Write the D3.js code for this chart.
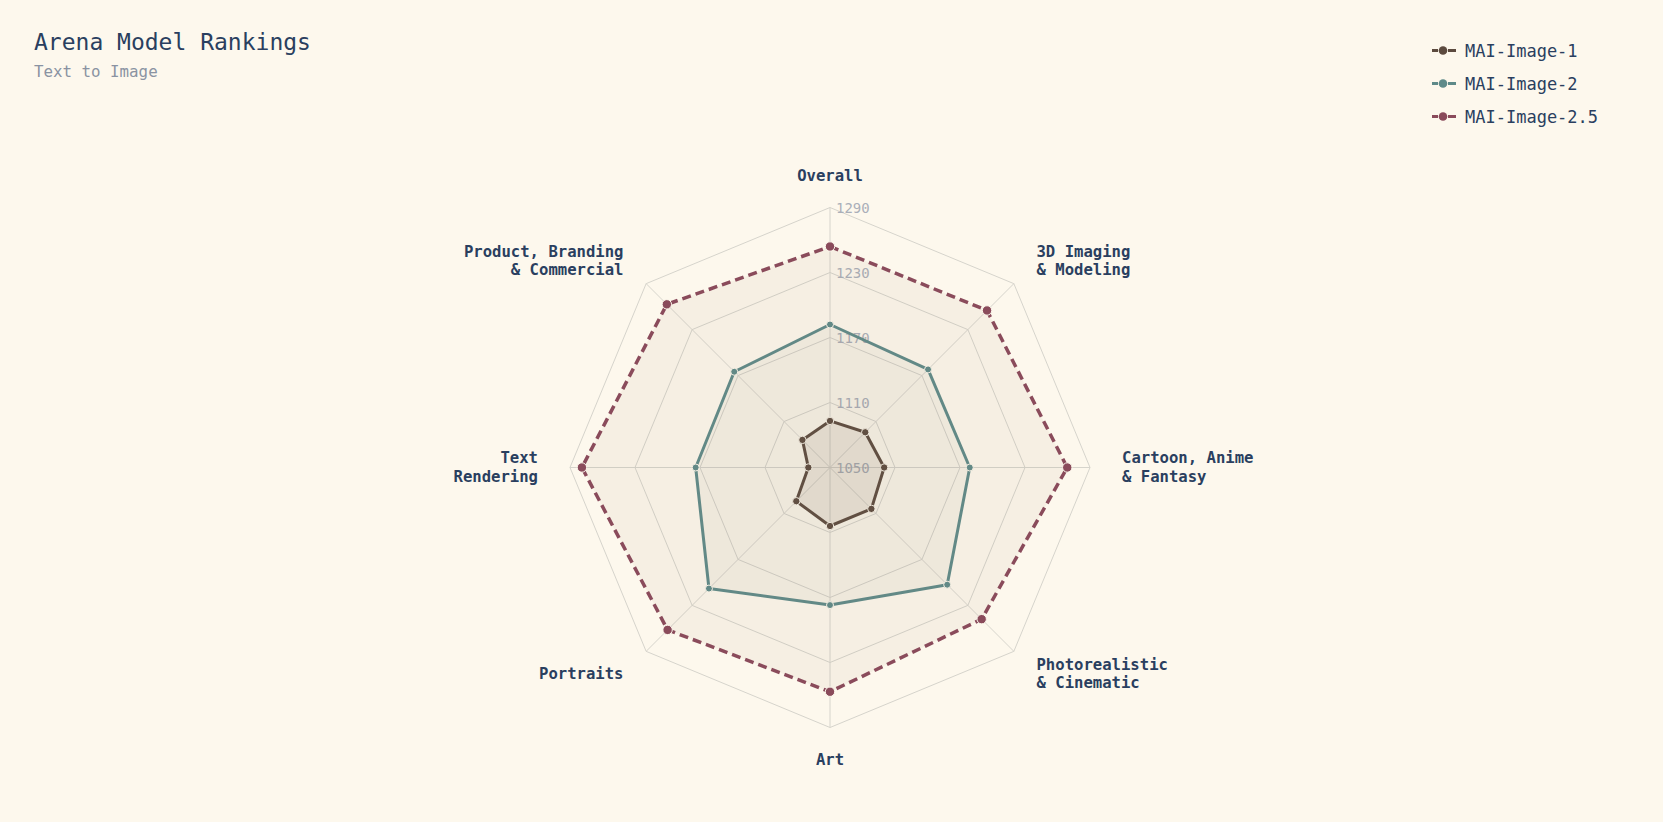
<!DOCTYPE html>
<html>
<head>
<meta charset="utf-8">
<script src="https://cdn.jsdelivr.net/npm/d3@7"></script>
<style>
  html, body { margin: 0; padding: 0; background: #fdf8ed; }
  svg { display: block; }
</style>
</head>
<body>
<svg id="chart" width="1663" height="822"></svg>
<script>
const categories = [
  ["Overall"],
  ["3D Imaging", "& Modeling"],
  ["Cartoon, Anime", "& Fantasy"],
  ["Photorealistic", "& Cinematic"],
  ["Art"],
  ["Portraits"],
  ["Text", "Rendering"],
  ["Product, Branding", "& Commercial"]
];
const seriesNames = ["MAI-Image-1", "MAI-Image-2", "MAI-Image-2.5"];
const mai1  = [1093, 1096, 1100, 1104, 1104, 1094, 1070, 1086];
const mai2  = [1182, 1178, 1179, 1203, 1177, 1208, 1174, 1175];
const mai25 = [1254, 1255, 1269, 1248, 1257, 1262, 1279, 1263];
const tickValues = [1050, 1110, 1170, 1230, 1290];
const colors = ["#5c4a3e", "#5e8a89", "#8a4b5b"];

const W = 1663, H = 822;
const cx = 830, cy = 467.5, R = 260;
const svg = d3.select("#chart");
svg.append("rect").attr("width", W).attr("height", H).attr("fill", "#fdf8ed");

const r = d3.scaleLinear().domain([1050, 1290]).range([0, R]);
const angle = d3.scaleLinear().domain([0, categories.length]).range([0, 2 * Math.PI]);
const pt = (i, v) => {
  const a = angle(i);
  return [cx + r(v) * Math.sin(a), cy - r(v) * Math.cos(a)];
};

const g = svg.append("g");
// grid rings
tickValues.slice(1).forEach(t => {
  g.append("path")
    .attr("d", d3.line()(categories.map((c, i) => pt(i, t))) + "Z")
    .attr("fill", "none")
    .attr("stroke", "#d6d4cc")
    .attr("stroke-width", 1);
});
// spokes
categories.forEach((c, i) => {
  const [x, y] = pt(i, 1290);
  g.append("line").attr("x1", cx).attr("y1", cy).attr("x2", x).attr("y2", y)
    .attr("stroke", "#d6d4cc").attr("stroke-width", 1);
});
// tick labels
g.selectAll("text.tick").data(tickValues).join("text")
  .attr("x", cx + 6)
  .attr("y", d => cy - r(d))
  .attr("dominant-baseline", "central")
  .attr("font-family", "DejaVu Sans Mono, monospace")
  .attr("font-size", 14)
  .attr("fill", "#aaafb9")
  .text(d => d);

// series
const data = [mai1, mai2, mai25];
const dashes = [null, null, "9,5"];
const widths = [3, 3, 3.5];
const radii = [3.7, 3.5, 4.7];
const fills = ["#6b5648", "#7d7a6e", "#9c7a6a"];
const fillOp = [0.1, 0.06, 0.07];
data.forEach((vals, s) => {
  const pts = vals.map((v, i) => pt(i, v));
  const sg = svg.append("g");
  sg.append("path")
    .attr("d", d3.line()(pts) + "Z")
    .attr("fill", fills[s])
    .attr("fill-opacity", fillOp[s])
    .attr("stroke", colors[s])
    .attr("stroke-width", widths[s])
    .attr("stroke-dasharray", dashes[s])
    .attr("stroke-linejoin", "round");
  sg.selectAll("circle").data(pts).join("circle")
    .attr("cx", d => d[0]).attr("cy", d => d[1])
    .attr("r", radii[s])
    .attr("fill", colors[s])
    .attr("stroke", "#fdf8ed")
    .attr("stroke-width", 1);
});

// axis labels
const labelR = R + 32;
categories.forEach((lines, i) => {
  const a = angle(i);
  const x = cx + labelR * Math.sin(a);
  const y = cy - labelR * Math.cos(a);
  const s = Math.sin(a);
  const anchor = Math.abs(s) < 0.01 ? "middle" : (s > 0 ? "start" : "end");
  const lh = 18.5;
  const t = svg.append("text")
    .attr("x", x).attr("y", y)
    .attr("text-anchor", anchor)
    .attr("font-family", "DejaVu Sans Mono, monospace")
    .attr("font-weight", "bold")
    .attr("font-size", 15.6)
    .attr("fill", "#2a3f5f");
  lines.forEach((ln, k) => {
    t.append("tspan")
      .attr("x", x)
      .attr("y", y + (k - (lines.length - 1) / 2) * lh)
      .attr("dominant-baseline", "central")
      .text(ln);
  });
});

// title
svg.append("text").attr("x", 34).attr("y", 50)
  .attr("font-family", "DejaVu Sans Mono, monospace")
  .attr("font-size", 23).attr("fill", "#2a3f5f")
  .text("Arena Model Rankings");
svg.append("text").attr("x", 34).attr("y", 77)
  .attr("font-family", "DejaVu Sans Mono, monospace")
  .attr("font-size", 15.8).attr("fill", "#8a93a2")
  .text("Text to Image");

// legend
const lg = svg.append("g");
seriesNames.forEach((name, s) => {
  const y = 50.5 + s * 33;
  lg.append("line").attr("x1", 1432).attr("x2", 1438).attr("y1", y).attr("y2", y)
    .attr("stroke", colors[s]).attr("stroke-width", 3);
  lg.append("line").attr("x1", 1448).attr("x2", 1456).attr("y1", y).attr("y2", y)
    .attr("stroke", colors[s]).attr("stroke-width", 3);
  lg.append("circle").attr("cx", 1443).attr("cy", y).attr("r", 4.3)
    .attr("fill", colors[s]);
  lg.append("text").attr("x", 1465).attr("y", y)
    .attr("dominant-baseline", "central")
    .attr("font-family", "DejaVu Sans Mono, monospace")
    .attr("font-size", 17).attr("fill", "#2a3f5f")
    .text(name);
});
</script>
</body>
</html>
